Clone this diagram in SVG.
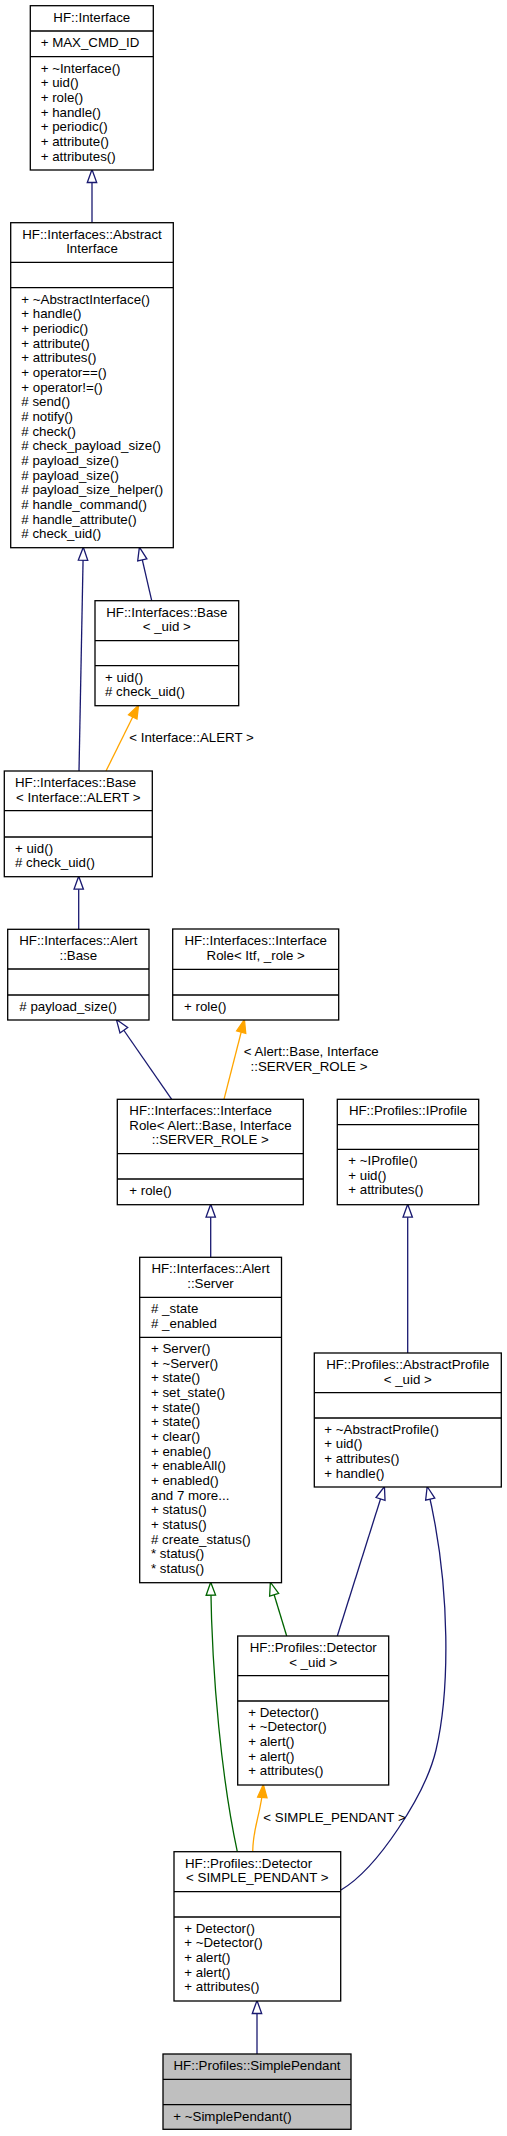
<svg xmlns="http://www.w3.org/2000/svg" width="507" height="2136" viewBox="0 0 507 2136">
<style>
.box{fill:#fff;stroke:#000;stroke-width:1.3}
.hl{fill:#bfbfbf}
.sep{stroke:#000;stroke-width:1.3}
text{font-family:"Liberation Sans",Arial,sans-serif;font-size:13.3px;fill:#000}
.c{text-anchor:middle}
.e{fill:none;stroke-width:1.3}
.blue{stroke:#191970}
.green{stroke:#006400}
.orange{stroke:#ffa500}
</style>
<defs>
<marker id="hb" viewBox="0 0 16 12" refX="14" refY="6" markerWidth="16" markerHeight="12" markerUnits="userSpaceOnUse" orient="auto"><path d="M1.5,1.3 L14.5,6 L1.5,10.7 Z" fill="#fff" stroke="#191970" stroke-width="1.3"/></marker>
<marker id="hg" viewBox="0 0 16 12" refX="14" refY="6" markerWidth="16" markerHeight="12" markerUnits="userSpaceOnUse" orient="auto"><path d="M1.5,1.3 L14.5,6 L1.5,10.7 Z" fill="#fff" stroke="#006400" stroke-width="1.3"/></marker>
<marker id="fo" viewBox="0 0 16 12" refX="14" refY="6" markerWidth="16" markerHeight="12" markerUnits="userSpaceOnUse" orient="auto"><path d="M1.5,1.3 L14.5,6 L1.5,10.7 Z" fill="#ffa500" stroke="#ffa500" stroke-width="1.3"/></marker>
</defs>
<rect width="507" height="2136" fill="#fff"/>

<g id="edges">
<path class="e blue" d="M92,222.7 L92,170" marker-end="url(#hb)"/>
<path class="e blue" d="M79,771 L83.3,547.7" marker-end="url(#hb)"/>
<path class="e blue" d="M151.7,600.7 L139.5,547.7" marker-end="url(#hb)"/>
<path class="e orange" d="M106,771 L138.3,705.7" marker-end="url(#fo)"/>
<text x="129.3" y="741.7">&lt; Interface::ALERT &gt;</text>
<path class="e blue" d="M78.7,929.3 L78.7,876.7" marker-end="url(#hb)"/>
<path class="e blue" d="M171.7,1099.3 L116.7,1020" marker-end="url(#hb)"/>
<path class="e orange" d="M224,1099.3 L244.3,1020" marker-end="url(#fo)"/>
<text class="c" x="311.3" y="1055.8">&lt; Alert::Base, Interface</text>
<text class="c" x="309" y="1070.8">::SERVER_ROLE &gt;</text>
<path class="e blue" d="M407.7,1353 L407.7,1204.7" marker-end="url(#hb)"/>
<path class="e blue" d="M210.7,1257.3 L210.7,1204.7" marker-end="url(#hb)"/>
<path class="e green" d="M237.3,1851.7 C222,1780 212,1680 210.7,1582.7" marker-end="url(#hg)"/>
<path class="e green" d="M286.7,1636 L270.5,1582.7" marker-end="url(#hg)"/>
<path class="e blue" d="M337.3,1636 L384.3,1487" marker-end="url(#hb)"/>
<path class="e blue" d="M341,1890 C378,1868 425.6,1794 436,1750 C449,1695 452,1590 427.3,1487" marker-end="url(#hb)"/>
<path class="e orange" d="M252.7,1851.7 C253,1825 261,1815 263.3,1785" marker-end="url(#fo)"/>
<text x="263.3" y="1821.7">&lt; SIMPLE_PENDANT &gt;</text>
<path class="e blue" d="M257,2054 L257,2001" marker-end="url(#hb)"/>
</g>

<g id="n_interface">
<rect class="box" x="30.3" y="5.7" width="123" height="164.3"/>
<line class="sep" x1="30.3" y1="31" x2="153.3" y2="31"/>
<line class="sep" x1="30.3" y1="56.7" x2="153.3" y2="56.7"/>
<text class="c" x="91.8" y="21.5">HF::Interface</text>
<text x="40.7" y="46.7">+ MAX_CMD_ID</text>
<text x="40.7" y="72.5">+ ~Interface()<tspan x="40.7" dy="14.67">+ uid()</tspan><tspan x="40.7" dy="14.67">+ role()</tspan><tspan x="40.7" dy="14.67">+ handle()</tspan><tspan x="40.7" dy="14.67">+ periodic()</tspan><tspan x="40.7" dy="14.67">+ attribute()</tspan><tspan x="40.7" dy="14.67">+ attributes()</tspan></text>
</g>

<g id="n_abstractinterface">
<rect class="box" x="10.7" y="222.7" width="162.6" height="325"/>
<line class="sep" x1="10.7" y1="262.3" x2="173.3" y2="262.3"/>
<line class="sep" x1="10.7" y1="287.7" x2="173.3" y2="287.7"/>
<text class="c" x="92" y="238.5">HF::Interfaces::Abstract</text>
<text class="c" x="92" y="253.2">Interface</text>
<text x="21.3" y="303.5">+ ~AbstractInterface()<tspan x="21.3" dy="14.67">+ handle()</tspan><tspan x="21.3" dy="14.67">+ periodic()</tspan><tspan x="21.3" dy="14.67">+ attribute()</tspan><tspan x="21.3" dy="14.67">+ attributes()</tspan><tspan x="21.3" dy="14.67">+ operator==()</tspan><tspan x="21.3" dy="14.67">+ operator!=()</tspan><tspan x="21.3" dy="14.67"># send()</tspan><tspan x="21.3" dy="14.67"># notify()</tspan><tspan x="21.3" dy="14.67"># check()</tspan><tspan x="21.3" dy="14.67"># check_payload_size()</tspan><tspan x="21.3" dy="14.67"># payload_size()</tspan><tspan x="21.3" dy="14.67"># payload_size()</tspan><tspan x="21.3" dy="14.67"># payload_size_helper()</tspan><tspan x="21.3" dy="14.67"># handle_command()</tspan><tspan x="21.3" dy="14.67"># handle_attribute()</tspan><tspan x="21.3" dy="14.67"># check_uid()</tspan></text>
</g>

<g id="n_base_uid">
<rect class="box" x="95" y="600.7" width="143.7" height="105"/>
<line class="sep" x1="95" y1="640.7" x2="238.7" y2="640.7"/>
<line class="sep" x1="95" y1="665.7" x2="238.7" y2="665.7"/>
<text class="c" x="166.8" y="616.5">HF::Interfaces::Base</text>
<text class="c" x="166.8" y="631.2">&lt; _uid &gt;</text>
<text x="105" y="681.5">+ uid()<tspan x="105" dy="14.67"># check_uid()</tspan></text>
</g>

<g id="n_base_alert">
<rect class="box" x="4.3" y="771" width="148" height="105.7"/>
<line class="sep" x1="4.3" y1="810.7" x2="152.3" y2="810.7"/>
<line class="sep" x1="4.3" y1="837" x2="152.3" y2="837"/>
<text x="15" y="786.8">HF::Interfaces::Base</text>
<text class="c" x="78.3" y="801.5">&lt; Interface::ALERT &gt;</text>
<text x="15" y="852.8">+ uid()<tspan x="15" dy="14.67"># check_uid()</tspan></text>
</g>

<g id="n_alert_base">
<rect class="box" x="7.7" y="929.3" width="141.3" height="90.7"/>
<line class="sep" x1="7.7" y1="969" x2="149" y2="969"/>
<line class="sep" x1="7.7" y1="995" x2="149" y2="995"/>
<text class="c" x="78.3" y="945.1">HF::Interfaces::Alert</text>
<text class="c" x="78.3" y="959.8">::Base</text>
<text x="19.3" y="1010.8"># payload_size()</text>
</g>

<g id="n_interfacerole_itf">
<rect class="box" x="172.7" y="929" width="166" height="91"/>
<line class="sep" x1="172.7" y1="969.3" x2="338.7" y2="969.3"/>
<line class="sep" x1="172.7" y1="995" x2="338.7" y2="995"/>
<text class="c" x="255.7" y="944.8">HF::Interfaces::Interface</text>
<text class="c" x="255.7" y="959.5">Role&lt; Itf, _role &gt;</text>
<text x="184" y="1010.8">+ role()</text>
</g>

<g id="n_interfacerole_alert">
<rect class="box" x="117.3" y="1099.3" width="186" height="105.4"/>
<line class="sep" x1="117.3" y1="1153.7" x2="303.3" y2="1153.7"/>
<line class="sep" x1="117.3" y1="1179" x2="303.3" y2="1179"/>
<text x="129.3" y="1115.1">HF::Interfaces::Interface</text>
<text x="129.3" y="1129.8">Role&lt; Alert::Base, Interface</text>
<text class="c" x="210.3" y="1144.4">::SERVER_ROLE &gt;</text>
<text x="129.3" y="1194.8">+ role()</text>
</g>

<g id="n_iprofile">
<rect class="box" x="337.3" y="1099.3" width="141.4" height="105.4"/>
<line class="sep" x1="337.3" y1="1124.7" x2="478.7" y2="1124.7"/>
<line class="sep" x1="337.3" y1="1149.3" x2="478.7" y2="1149.3"/>
<text class="c" x="408" y="1115.1">HF::Profiles::IProfile</text>
<text x="348.3" y="1165.1">+ ~IProfile()<tspan x="348.3" dy="14.67">+ uid()</tspan><tspan x="348.3" dy="14.67">+ attributes()</tspan></text>
</g>

<g id="n_alert_server">
<rect class="box" x="139.7" y="1257.3" width="141.8" height="325.4"/>
<line class="sep" x1="139.7" y1="1297.3" x2="281.5" y2="1297.3"/>
<line class="sep" x1="139.7" y1="1337.3" x2="281.5" y2="1337.3"/>
<text class="c" x="210.5" y="1273.1">HF::Interfaces::Alert</text>
<text class="c" x="210.5" y="1287.8">::Server</text>
<text x="151" y="1313.1"># _state<tspan x="151" dy="14.67"># _enabled</tspan></text>
<text x="151" y="1353.1">+ Server()<tspan x="151" dy="14.67">+ ~Server()</tspan><tspan x="151" dy="14.67">+ state()</tspan><tspan x="151" dy="14.67">+ set_state()</tspan><tspan x="151" dy="14.67">+ state()</tspan><tspan x="151" dy="14.67">+ state()</tspan><tspan x="151" dy="14.67">+ clear()</tspan><tspan x="151" dy="14.67">+ enable()</tspan><tspan x="151" dy="14.67">+ enableAll()</tspan><tspan x="151" dy="14.67">+ enabled()</tspan><tspan x="151" dy="14.67">and 7 more...</tspan><tspan x="151" dy="14.67">+ status()</tspan><tspan x="151" dy="14.67">+ status()</tspan><tspan x="151" dy="14.67"># create_status()</tspan><tspan x="151" dy="14.67">* status()</tspan><tspan x="151" dy="14.67">* status()</tspan></text>
</g>

<g id="n_abstractprofile">
<rect class="box" x="314.3" y="1353" width="187" height="134"/>
<line class="sep" x1="314.3" y1="1392.7" x2="501.3" y2="1392.7"/>
<line class="sep" x1="314.3" y1="1418" x2="501.3" y2="1418"/>
<text class="c" x="407.8" y="1368.8">HF::Profiles::AbstractProfile</text>
<text class="c" x="407.8" y="1383.5">&lt; _uid &gt;</text>
<text x="324.3" y="1433.8">+ ~AbstractProfile()<tspan x="324.3" dy="14.67">+ uid()</tspan><tspan x="324.3" dy="14.67">+ attributes()</tspan><tspan x="324.3" dy="14.67">+ handle()</tspan></text>
</g>

<g id="n_detector_uid">
<rect class="box" x="237.7" y="1636" width="151" height="149"/>
<line class="sep" x1="237.7" y1="1675.7" x2="388.7" y2="1675.7"/>
<line class="sep" x1="237.7" y1="1701" x2="388.7" y2="1701"/>
<text class="c" x="313.2" y="1651.8">HF::Profiles::Detector</text>
<text class="c" x="313.2" y="1666.5">&lt; _uid &gt;</text>
<text x="248.3" y="1716.8">+ Detector()<tspan x="248.3" dy="14.67">+ ~Detector()</tspan><tspan x="248.3" dy="14.67">+ alert()</tspan><tspan x="248.3" dy="14.67">+ alert()</tspan><tspan x="248.3" dy="14.67">+ attributes()</tspan></text>
</g>

<g id="n_detector_sp">
<rect class="box" x="174" y="1851.7" width="166.7" height="149.3"/>
<line class="sep" x1="174" y1="1891.7" x2="340.7" y2="1891.7"/>
<line class="sep" x1="174" y1="1917" x2="340.7" y2="1917"/>
<text x="185" y="1867.5">HF::Profiles::Detector</text>
<text class="c" x="257.3" y="1882.2">&lt; SIMPLE_PENDANT &gt;</text>
<text x="184.3" y="1932.8">+ Detector()<tspan x="184.3" dy="14.67">+ ~Detector()</tspan><tspan x="184.3" dy="14.67">+ alert()</tspan><tspan x="184.3" dy="14.67">+ alert()</tspan><tspan x="184.3" dy="14.67">+ attributes()</tspan></text>
</g>

<g id="n_simplependant">
<rect class="box hl" x="163" y="2054" width="188" height="75.3"/>
<line class="sep" x1="163" y1="2079.3" x2="351" y2="2079.3"/>
<line class="sep" x1="163" y1="2104.7" x2="351" y2="2104.7"/>
<text class="c" x="257" y="2069.8">HF::Profiles::SimplePendant</text>
<text x="173.3" y="2120.5">+ ~SimplePendant()</text>
</g>
</svg>
